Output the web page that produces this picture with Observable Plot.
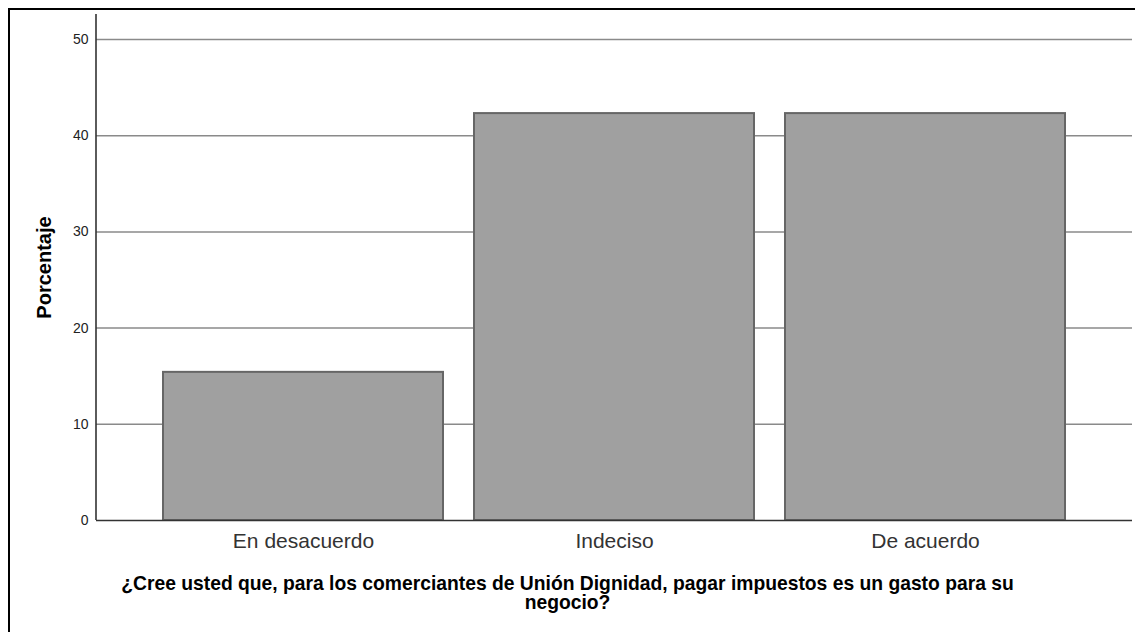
<!DOCTYPE html>
<html>
<head>
<meta charset="utf-8">
<script src="https://cdn.jsdelivr.net/npm/d3@7"></script>
<script src="https://cdn.jsdelivr.net/npm/@observablehq/plot@0.6"></script>
<style>
  html, body { margin: 0; padding: 0; background: #fff; }
  body { position: relative; width: 1135px; height: 632px; overflow: hidden; font-family: "Liberation Sans", Arial, sans-serif; }
  #frame { position: absolute; left: 8px; top: 8px; width: 1140px; height: 640px; border: 2px solid #000; pointer-events: none; }
  #chart svg { display: block; }
</style>
</head>
<body>
<div id="chart"></div>
<div id="frame"></div>
<script>
const categories = ["En desacuerdo", "Indeciso", "De acuerdo"];
const percentages = [15.4, 42.3, 42.3];
const yTicks = [0, 10, 20, 30, 40, 50];
const yLabel = "Porcentaje";
const xLabel = "¿Cree usted que, para los comerciantes de Unión Dignidad, pagar impuestos es un gasto para su\nnegocio?";

const data = categories.map((c, i) => ({category: c, value: percentages[i]}));

// left axis line drawn from the frame dimensions
function yAxisLine(index, scales, values, dims) {
  const ns = "http://www.w3.org/2000/svg";
  const line = document.createElementNS(ns, "line");
  const x = dims.marginLeft;
  line.setAttribute("x1", x);
  line.setAttribute("x2", x);
  line.setAttribute("y1", dims.marginTop);
  line.setAttribute("y2", dims.height - dims.marginBottom);
  line.setAttribute("stroke", "#333");
  line.setAttribute("stroke-width", 1.6);
  return line;
}

const chart = Plot.plot({
  width: 1135,
  height: 632,
  marginTop: 14,
  marginBottom: 112,
  marginLeft: 96,
  marginRight: 3,
  style: {fontFamily: '"Liberation Sans", Arial, sans-serif', background: "transparent"},
  x: {domain: categories, paddingInner: 0.1, paddingOuter: 0.214},
  y: {domain: [0, 52.6]},
  marks: [
    Plot.gridY(yTicks.filter(d => d > 0), {stroke: "#8a8a8a", strokeOpacity: 1, strokeWidth: 1.5}),
    Plot.barY(data, {x: "category", y: "value", fill: "#a0a0a0", stroke: "#666", strokeWidth: 2}),
    Plot.ruleY([0], {stroke: "#333", strokeWidth: 1.6}),
    yAxisLine,
    Plot.axisY({ticks: yTicks, tickSize: 0, tickPadding: 8, fontSize: 14, color: "#222", label: null}),
    Plot.axisX({tickSize: 0, tickPadding: 13, fontSize: 21, color: "#333", label: null}),
    Plot.text([yLabel], {frameAnchor: "left", dx: -52, rotate: -90, textAnchor: "middle", lineAnchor: "middle", fontSize: 20, fontWeight: "bold", fill: "#000"}),
    Plot.text([xLabel], {frameAnchor: "bottom", dx: -47, dy: 73, lineAnchor: "middle", lineHeight: 1.0, fontSize: 19.3, fontWeight: "bold", fill: "#000"})
  ]
});
document.getElementById("chart").appendChild(chart);
</script>
</body>
</html>
